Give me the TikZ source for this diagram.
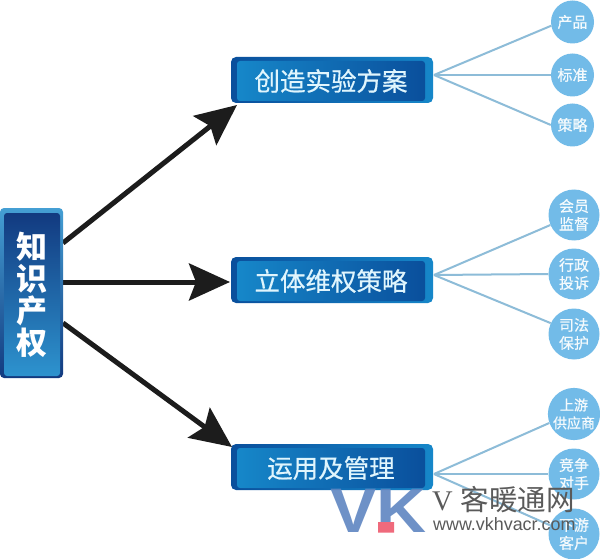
\documentclass[tikz,border=0pt]{standalone}
\usepackage{fontspec}
\usepackage{graphicx}
\setmainfont{Liberation Sans}
\newfontfamily\cjk{Noto Sans CJK SC}
\newfontfamily\cjkm[FakeBold=0.6]{Noto Sans CJK SC}
\newfontfamily\serifw{Liberation Serif}
\usetikzlibrary{arrows.meta}
\definecolor{navy}{HTML}{123A80}
\definecolor{midblue}{HTML}{1687C9}
\definecolor{deepblue}{HTML}{0A4F9C}
\definecolor{skyblue}{HTML}{72BBE8}
\definecolor{spoke}{HTML}{8DBCD8}
\definecolor{arrowk}{HTML}{1C1C1C}
\definecolor{wmblue}{HTML}{5F86C2}
\definecolor{wmpink}{HTML}{EE5A6E}
\definecolor{wmgray}{HTML}{5A5A5A}
\tikzset{
  x=1pt,y=-1pt,
  mainouter/.style={rectangle,rounded corners=4pt,minimum width=63pt,minimum height=170pt,inner sep=0pt,top color=midblue!80!white,bottom color=navy},
  maininner/.style={rectangle,rounded corners=3pt,minimum width=56pt,minimum height=163pt,inner sep=0pt,top color=navy,bottom color=midblue!90!white,text=white,align=center,font=\cjk\bfseries\fontsize{31}{32}\selectfont},
  midouter/.style={rectangle,rounded corners=5pt,minimum width=202pt,minimum height=46pt,inner sep=0pt,left color=deepblue,right color=midblue},
  midinner/.style={rectangle,rounded corners=3pt,minimum width=188pt,minimum height=40pt,inner sep=0pt,left color=midblue,right color=deepblue,text=white!88!cyan,font=\cjkm\fontsize{25.5}{27}\selectfont},
  leaf/.style={circle,fill=skyblue,inner sep=0pt,text=white!92!skyblue,align=center,font=\cjkm\fontsize{15}{18}\selectfont},
  spokeline/.style={spoke,line width=2pt},
  bigarrow/.style={arrowk,line width=5pt,-{Stealth[length=41pt,width=37pt,inset=7pt]}},
}
\begin{document}
\begin{tikzpicture}
\useasboundingbox (0,0) rectangle (600,559);
\fill[white] (0,0) rectangle (600,559);

% connector anchors
\coordinate (s1) at (63,243);
\coordinate (s2) at (63,282);
\coordinate (s3) at (63,323);
\coordinate (t1) at (237,105);
\coordinate (t2) at (230,282);
\coordinate (t3) at (232,447);
\coordinate (h1) at (434,75);
\coordinate (h2) at (434,275);
\coordinate (h3) at (434,474);

% leaves
\node[leaf,minimum size=43pt] (a1) at (572.5,22) {产品};
\node[leaf,minimum size=43pt] (a2) at (572.5,75) {标准};
\node[leaf,minimum size=43pt] (a3) at (572.5,125) {策略};
\node[leaf,minimum size=51pt] (b1) at (574,215) {会员\\监督};
\node[leaf,minimum size=51pt] (b2) at (574,274) {行政\\投诉};
\node[leaf,minimum size=51pt] (b3) at (574,334) {司法\\保护};
\node[leaf,minimum size=51pt,font=\cjkm\fontsize{14}{18}\selectfont] (c1) at (574,414) {上游\\供应商};
\node[leaf,minimum size=51pt] (c2) at (574,474) {竞争\\对手};
\node[leaf,minimum size=51pt] (c3) at (574,534) {下游\\客户};

% spokes
\foreach \h/\n in {h1/a1.190,h1/a2.180,h1/a3.180,h2/b1.203,h2/b2.180,h2/b3.155,h3/c1.200,h3/c2.180,h3/c3.160}
  \draw[spokeline] (\h) -- (\n);

% large arrows
\draw[bigarrow] (s1) -- (t1);
\draw[bigarrow] (s2) -- (t2);
\draw[bigarrow] (s3) -- (t3);

% main box
\node[mainouter] (mo) at (31.5,293) {};
\node[maininner] (mi) at (32,294.5) {知\\识\\产\\权};

% middle boxes
\node[midouter] (m1o) at (332,80) {};
\node[midinner] (m1) at (331,81) {创造实验方案};
\node[midouter] (m2o) at (332,280) {};
\node[midinner] (m2) at (331,281) {立体维权策略};
\node[midouter] (m3o) at (332,467) {};
\node[midinner] (m3) at (331,468) {运用及管理};

% watermark
\begin{scope}[opacity=.9,transparency group]
\node[inner sep=0pt,anchor=base west,text=wmblue,font=\bfseries\fontsize{63}{63}\selectfont] (wmv) at (330,532) {\scalebox{1.1}[1]{VK}};
\fill[wmpink] (378,522) rectangle (394,532.5);
\end{scope}
\node[inner sep=0pt,anchor=base west,text=wmgray,font=\fontsize{28.5}{30}\selectfont] (wmt) at (432,510) {{\serifw V} {\cjk 客暖通网}};
\node[inner sep=0pt,anchor=base west,text=wmgray,font=\fontsize{17.9}{20}\selectfont] (wmu) at (433,530) {www.vkhvacr.com};
\end{tikzpicture}
\end{document}
